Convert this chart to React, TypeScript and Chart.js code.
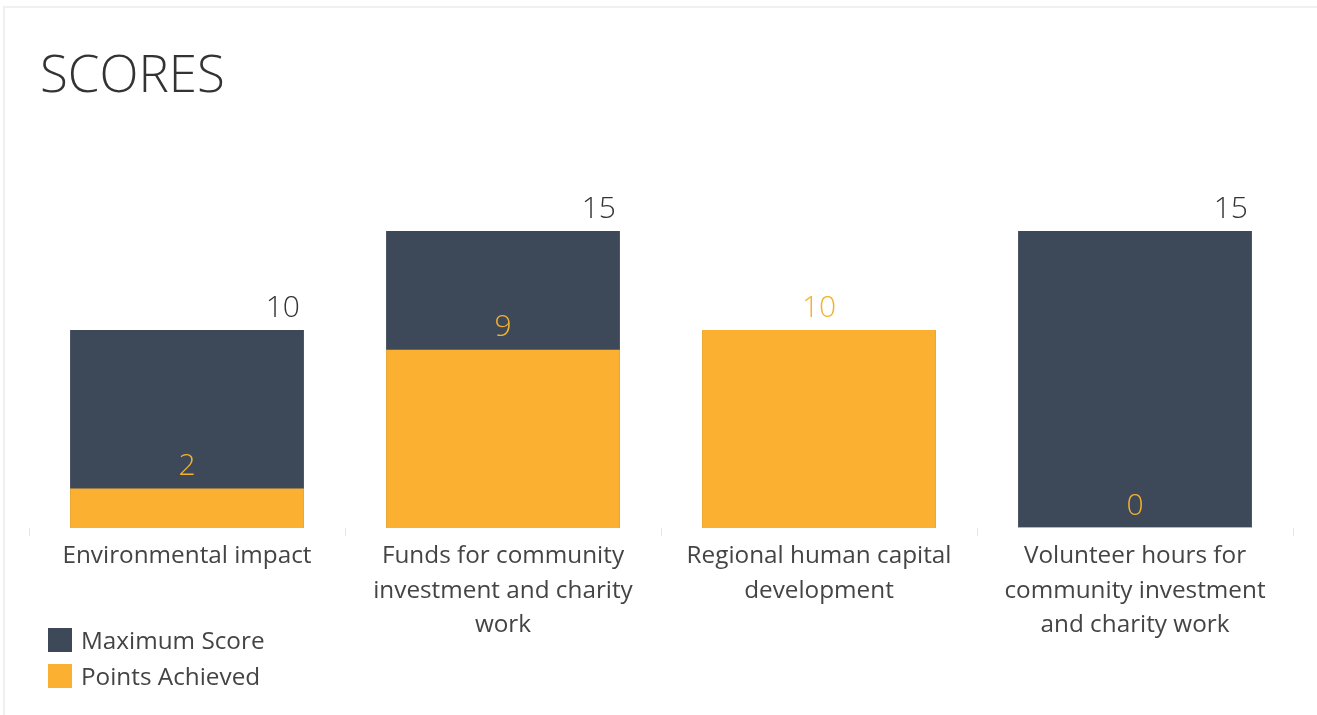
import React, { useEffect, useRef } from "react";
import { Chart, registerables } from "chart.js";

Chart.register(...registerables);

const categories: string[][] = [
  ["Environmental impact"],
  ["Funds for community", "investment and charity", "work"],
  ["Regional human capital", "development"],
  ["Volunteer hours for", "community investment", "and charity work"],
];
const maximumScore = [10, 15, 10, 15];
const pointsAchieved = [2, 9, 10, 0];
const seriesNames = ["Maximum Score", "Points Achieved"];
const colors = ["#3d4859", "#fbb031"];
const FONT = "'Open Sans', 'Noto Sans', sans-serif";

const valueLabels = {
  id: "valueLabels",
  afterDatasetsDraw(chart: any) {
    const ctx = chart.ctx;
    ctx.save();
    ctx.font = `300 30px ${FONT}`;
    ctx.textBaseline = "middle";
    chart.data.datasets.forEach((ds: any, di: number) => {
      const meta = chart.getDatasetMeta(di);
      meta.data.forEach((bar: any, i: number) => {
        const v = ds.data[i];
        if (di === 0) {
          if (pointsAchieved[i] >= v) return;
          ctx.fillStyle = "#333";
          ctx.textAlign = "right";
          ctx.fillText(String(v), bar.x + bar.width / 2 - 4, bar.y - 22);
        } else {
          ctx.fillStyle = "#f5b12c";
          ctx.textAlign = "center";
          ctx.fillText(String(v), bar.x, chart.scales.y.getPixelForValue(v) - 22);
        }
      });
    });
    ctx.restore();
  },
};

export default function App() {
  const ref = useRef<HTMLCanvasElement>(null);
  useEffect(() => {
    document.body.style.margin = "0";
    const chart = new Chart(ref.current!, {
      type: "bar",
      data: {
        labels: categories,
        datasets: [
          {
            label: seriesNames[0],
            data: maximumScore,
            backgroundColor: colors[0],
            order: 2,
            grouped: false,
            barPercentage: 0.74,
            categoryPercentage: 1,
          },
          {
            label: seriesNames[1],
            data: pointsAchieved,
            backgroundColor: colors[1],
            order: 1,
            grouped: false,
            barPercentage: 0.74,
            categoryPercentage: 1,
            minBarLength: 1,
          },
        ],
      },
      options: {
        responsive: false,
        animation: false,
        layout: { padding: { top: 132, left: 29, right: 24, bottom: 67 } },
        plugins: {
          legend: { display: false },
          tooltip: { enabled: false },
        },
        scales: {
          x: {
            grid: {
              display: true,
              drawOnChartArea: false,
              drawTicks: true,
              tickLength: 8,
              color: "#e6e6e6",
            },
            border: { display: false },
            ticks: {
              padding: 3,
              color: "#444",
              font: { family: FONT, size: 24.3, lineHeight: 1.42 },
              maxRotation: 0,
              autoSkip: false,
            },
            afterFit(scale: any) {
              scale.height = 120;
            },
          },
          y: {
            display: false,
            min: 0,
            max: 20,
          },
        },
      },
      plugins: [valueLabels],
    });
    return () => chart.destroy();
  }, []);

  return (
    <div style={{ position: "relative", width: 1317, height: 715, overflow: "hidden", background: "#fff" }}>
      <div
        style={{
          position: "absolute",
          left: 3,
          top: 6,
          width: 1340,
          height: 740,
          borderLeft: "2px solid #f0f0f0",
          borderTop: "2px solid #f0f0f0",
          boxSizing: "border-box",
        }}
      />
      <canvas ref={ref} width={1317} height={715} style={{ position: "absolute", left: 0, top: 0, width: 1317, height: 715 }} />
      <div
        style={{
          position: "absolute",
          left: 40,
          top: 47,
          fontFamily: FONT,
          fontWeight: 300,
          fontSize: 51,
          lineHeight: 1,
          color: "#333",
        }}
      >
        SCORES
      </div>
      <div style={{ position: "absolute", left: 48, top: 628, fontFamily: FONT, fontSize: 24.3, color: "#444" }}>
        {seriesNames.map((n, i) => (
          <div key={n} style={{ display: "flex", alignItems: "center", height: 24, marginBottom: 12 }}>
            <span style={{ width: 24, height: 24, background: colors[i], display: "inline-block", marginRight: 9 }} />
            <span style={{ lineHeight: "24px" }}>{n}</span>
          </div>
        ))}
      </div>
    </div>
  );
}
